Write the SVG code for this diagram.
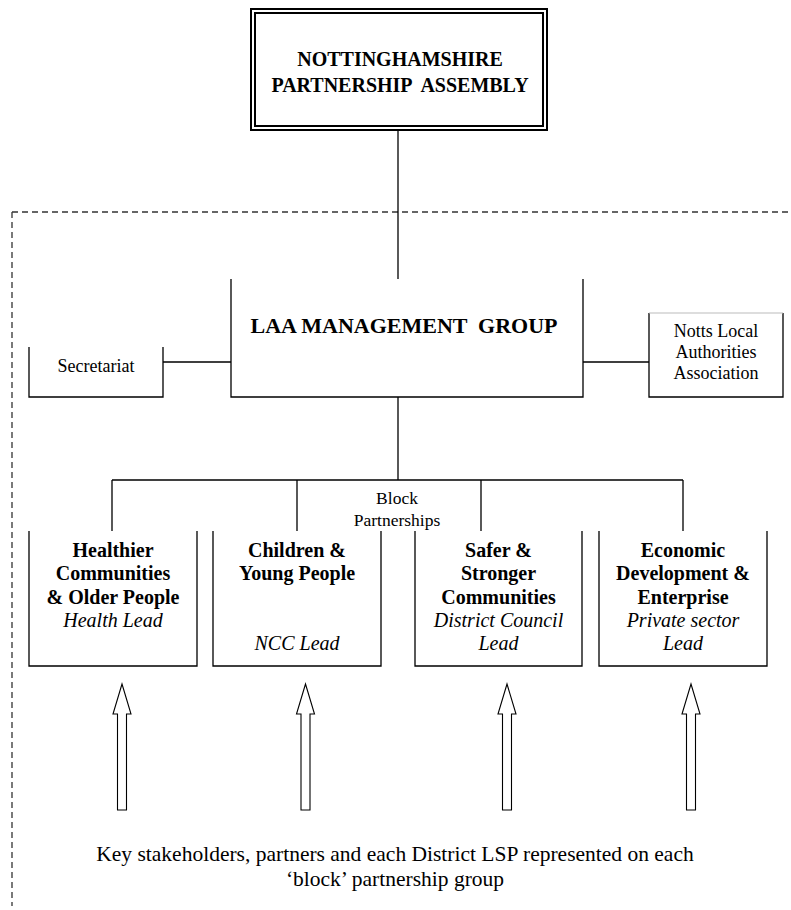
<svg xmlns="http://www.w3.org/2000/svg" width="791" height="910" viewBox="0 0 791 910">
<style>
.box{fill:#fff;stroke:#000;stroke-width:1.3}
.ln{fill:none;stroke:#000;stroke-width:1.3}
.dash{fill:none;stroke:#333;stroke-width:1.3;stroke-dasharray:6 4}
.arrow{fill:#fff;stroke:#000;stroke-width:1.1}
.t{font-family:"Liberation Serif","Times New Roman",serif;fill:#000;text-anchor:middle}
.b{font-weight:bold;font-size:20px}
.i{font-style:italic;font-size:20px}
.r{font-size:18px}
</style>
<rect width="791" height="910" fill="#fff"/>
<g id="boundary">
<path class="dash" d="M12,212 H791 M12,212 V906"/>
</g>
<g id="connectors">
<path class="ln" d="M398,130 V279"/>
<path class="ln" d="M163,362 H231 M583,362 H649"/>
<path class="ln" d="M398,397 V480 M112,480 H683 M112,480 V531 M297,480 V531 M481,480 V531 M683,480 V531"/>
</g>
<g id="assembly">
<rect x="251" y="9" width="296" height="121" fill="#fff" stroke="#000" stroke-width="2"/>
<rect x="255" y="13" width="288" height="113" fill="none" stroke="#000" stroke-width="2"/>
<text class="t b" x="400" y="66">NOTTINGHAMSHIRE</text>
<text class="t b" x="400" y="92" xml:space="preserve">PARTNERSHIP  ASSEMBLY</text>
</g>
<g id="laa">
<path class="box" d="M231,279 V397 H583 V279"/>
<text class="t" x="404" y="333" font-weight="bold" font-size="22" xml:space="preserve">LAA MANAGEMENT  GROUP</text>
</g>
<g id="secretariat">
<path class="box" d="M29,347 V397 H163 V347"/>
<text class="t r" x="96" y="372">Secretariat</text>
</g>
<g id="notts">
<path class="box" d="M649,313 V397 H783 V313"/>
<path d="M649,313 H783" stroke="#bbb" stroke-width="1"/>
<text class="t r" x="716" y="337">Notts Local</text>
<text class="t r" x="716" y="358">Authorities</text>
<text class="t r" x="716" y="379">Association</text>
</g>
<g id="block-label">
<text class="t" x="397" y="504" font-size="17.5">Block</text>
<text class="t" x="397" y="526" font-size="17.5">Partnerships</text>
</g>
<g id="healthier">
<path class="box" d="M29,531 V666 H197 V531"/>
<text class="t b" x="113" y="557">Healthier</text>
<text class="t b" x="113" y="580">Communities</text>
<text class="t b" x="113" y="603.5">&amp; Older People</text>
<text class="t i" x="113" y="627">Health Lead</text>
</g>
<g id="children">
<path class="box" d="M213,531 V666 H381 V531"/>
<text class="t b" x="297" y="557">Children &amp;</text>
<text class="t b" x="297" y="580">Young People</text>
<text class="t i" x="297" y="650">NCC Lead</text>
</g>
<g id="safer">
<path class="box" d="M415,531 V666 H582 V531"/>
<text class="t b" x="498.5" y="557">Safer &amp;</text>
<text class="t b" x="498.5" y="580">Stronger</text>
<text class="t b" x="498.5" y="603.5">Communities</text>
<text class="t i" x="498.5" y="627">District Council</text>
<text class="t i" x="498.5" y="650">Lead</text>
</g>
<g id="economic">
<path class="box" d="M599,531 V666 H767 V531"/>
<text class="t b" x="683" y="557">Economic</text>
<text class="t b" x="683" y="580">Development &amp;</text>
<text class="t b" x="683" y="603.5">Enterprise</text>
<text class="t i" x="683" y="627">Private sector</text>
<text class="t i" x="683" y="650">Lead</text>
</g>
<g id="arrows">
<path class="arrow" d="M122,684 L131,714 H126.5 V810 H117.5 V714 H113 Z"/>
<path class="arrow" d="M305.5,684 L314.5,714 H310 V810 H301 V714 H296.5 Z"/>
<path class="arrow" d="M507,684 L516,714 H511.5 V810 H502.5 V714 H498 Z"/>
<path class="arrow" d="M691,684 L700,714 H695.5 V810 H686.5 V714 H682 Z"/>
</g>
<g id="stakeholders">
<text class="t" x="395" y="861" font-size="21.5">Key stakeholders, partners and each District LSP represented on each</text>
<text class="t" x="395" y="886" font-size="21.5">‘block’ partnership group</text>
</g>
</svg>
